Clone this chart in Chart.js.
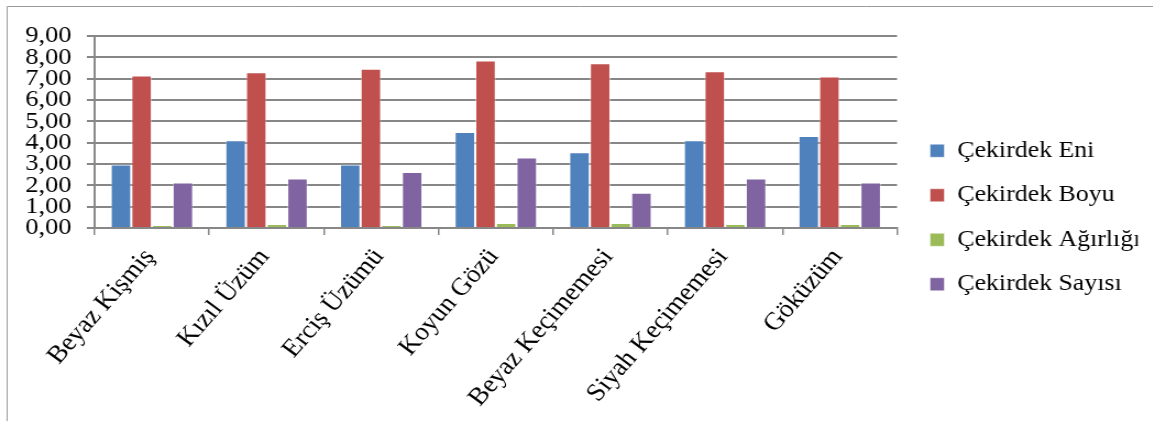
<!DOCTYPE html>
<html lang="tr">
<head>
<meta charset="utf-8">
<title>Çekirdek özellikleri</title>
<script src="https://cdn.jsdelivr.net/npm/chart.js@4"></script>
<style>
    html, body { margin: 0; padding: 0; background: #fff; overflow: hidden; }
    /* the chart is laid out 1048 wide and spread to the full 1153 px */
    #wrap { width: 1048px; height: 421px; transform: scaleX(1.1); transform-origin: 0 0; }
</style>
</head>
<body>
<div id="wrap"><canvas id="chart" width="1048" height="421"></canvas></div>
<script>
const categories = ['Beyaz Kişmiş', 'Kızıl Üzüm', 'Erciş Üzümü', 'Koyun Gözü', 'Beyaz Keçimemesi', 'Siyah Keçimemesi', 'Göküzüm'];
const seriesNames = ['Çekirdek Eni', 'Çekirdek Boyu', 'Çekirdek Ağırlığı', 'Çekirdek Sayısı'];
const eni = [2.98, 4.11, 2.98, 4.50, 3.55, 4.11, 4.31];
const boyu = [7.15, 7.30, 7.46, 7.85, 7.72, 7.35, 7.10];
const agirlik = [0.14, 0.19, 0.14, 0.23, 0.23, 0.19, 0.19];
const sayi = [2.13, 2.32, 2.63, 3.30, 1.65, 2.32, 2.13];
const yTicks = [0, 1, 2, 3, 4, 5, 6, 7, 8, 9];

const colors = ['#4F81BD', '#C0504D', '#9BBB59', '#8064A2'];
const gridColor = '#878787';
const serif = '"Liberation Serif", "Times New Roman", serif';

// thin grey frame along the top and left edge
const frame = {
    id: 'frame',
    beforeDraw(chart) {
        const ctx = chart.ctx;
        ctx.save();
        ctx.strokeStyle = '#9a9a9a';
        ctx.lineWidth = 1;
        ctx.beginPath();
        ctx.moveTo(6.5, chart.height);
        ctx.lineTo(6.5, 6.5);
        ctx.lineTo(chart.width, 6.5);
        ctx.stroke();
        ctx.restore();
    }
};

const values = [eni, boyu, agirlik, sayi];

new Chart(document.getElementById('chart'), {
    type: 'bar',
    data: {
        labels: categories,
        datasets: seriesNames.map((name, i) => ({
            label: name,
            data: values[i],
            backgroundColor: colors[i],
            borderColor: 'rgba(255,255,255,0.45)',
            borderWidth: 1,
            categoryPercentage: 0.72,
            barPercentage: 1
        }))
    },
    options: {
        responsive: false,
        animation: false,
        devicePixelRatio: 1,
        layout: { padding: { top: 14, bottom: 0, left: 0, right: 13.5 } },
        plugins: {
            tooltip: { enabled: false },
            legend: {
                position: 'right',
                maxWidth: 210,
                labels: {
                    boxWidth: 13,
                    boxHeight: 13,
                    padding: 21,
                    color: '#000',
                    font: { family: serif, size: 23.5 }
                }
            }
        },
        scales: {
            x: {
                grid: { drawOnChartArea: false, drawTicks: true, tickLength: 7, color: gridColor, lineWidth: 1.5 },
                border: { display: true, color: gridColor, width: 2 },
                ticks: {
                    minRotation: 51,
                    maxRotation: 51,
                    autoSkip: false,
                    padding: 8,
                    labelOffset: -2,
                    color: '#000',
                    font: { family: serif, size: 25 }
                },
                afterFit: (scale) => { scale.height = 193; }
            },
            y: {
                min: yTicks[0],
                max: yTicks[yTicks.length - 1],
                afterBuildTicks: (scale) => { scale.ticks = yTicks.map(v => ({ value: v })); },
                grid: { color: gridColor, lineWidth: 2, drawTicks: true, tickLength: 7 },
                border: { display: true, color: gridColor, width: 2 },
                ticks: {
                    autoSkip: false,
                    padding: 14,
                    color: '#000',
                    font: { family: serif, size: 24 },
                    callback: (v) => v.toFixed(2).replace('.', ',')
                },
                afterFit: (scale) => { scale.width = 86; }
            },
            // empty strips: above the plot, and between plot and legend
            topGap: {
                type: 'category',
                position: 'top',
                display: false,
                afterFit: (scale) => { scale.height = 22; }
            },
            gap: {
                type: 'linear',
                position: 'right',
                display: false,
                afterFit: (scale) => { scale.width = 9; }
            }
        }
    },
    plugins: [frame]
});
</script>
</body>
</html>
